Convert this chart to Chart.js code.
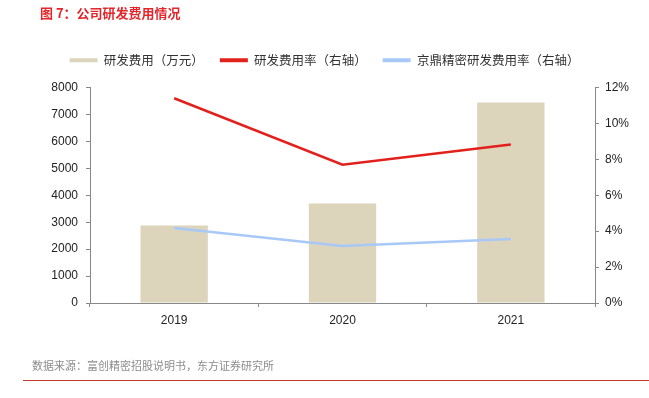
<!DOCTYPE html>
<html>
<head>
<meta charset="utf-8">
<script src="https://cdn.jsdelivr.net/npm/chart.js@4/dist/chart.umd.min.js"></script>
<style>
  body { margin: 0; background: #fff; font-family: "Liberation Sans", "Noto Sans CJK SC", sans-serif; }
  #wrap { position: relative; width: 649px; height: 398px; overflow: hidden; }
  #title { position: absolute; left: 40px; top: 3px; font-size: 13px; font-weight: bold; color: #e3262b; font-family: "Noto Sans CJK SC", sans-serif; }
  #source { position: absolute; left: 32px; top: 357px; font-size: 11px; color: #8c8c8c; font-family: "Noto Sans CJK SC", sans-serif; }
  #rule { position: absolute; left: 23px; right: 0; top: 380px; height: 1px; background: #c0392b; }
  canvas { position: absolute; left: 0; top: 0; }
</style>
</head>
<body>
<div id="wrap">
  <canvas id="chart" width="649" height="398"></canvas>
  <div id="title">图 7：公司研发费用情况</div>
  <div id="source">数据来源：富创精密招股说明书，东方证券研究所</div>
  <div id="rule"></div>
</div>
<script>
const years = ["2019", "2020", "2021"];
const rdCost = [2880, 3690, 7440];          // 研发费用（万元）
const rdRate = [11.4, 7.7, 8.83];           // 研发费用率 %
const peerRate = [4.17, 3.18, 3.56];        // 京鼎精密研发费用率 %
const leftTicks = [0, 1000, 2000, 3000, 4000, 5000, 6000, 7000, 8000];
const rightTicks = [0, 2, 4, 6, 8, 10, 12];

const font = { family: "'Liberation Sans', Arial, sans-serif", size: 12 };
const cjk = { family: "'Noto Sans CJK SC', sans-serif", size: 12.5 };

// push legend down a bit so the plot starts where it should
const legendSpace = {
  id: 'legendSpace',
  beforeInit(chart) {
    const fit = chart.legend.fit;
    chart.legend.fit = function () {
      fit.bind(chart.legend)();
      this.height += 11;
    };
  }
};

new Chart(document.getElementById('chart'), {
  type: 'bar',
  data: {
    labels: years,
    datasets: [
      {
        type: 'line',
        label: '研发费用率（右轴）',
        data: rdRate,
        yAxisID: 'y1',
        borderColor: '#e3211c',
        backgroundColor: '#e3211c',
        borderWidth: 2.5,
        pointRadius: 0,
        order: 1
      },
      {
        type: 'line',
        label: '京鼎精密研发费用率（右轴）',
        data: peerRate,
        yAxisID: 'y1',
        borderColor: '#a8c9f7',
        backgroundColor: '#a8c9f7',
        borderWidth: 2.5,
        pointRadius: 0,
        order: 2
      },
      {
        label: '研发费用（万元）',
        data: rdCost,
        yAxisID: 'y',
        backgroundColor: '#ddd4bc',
        categoryPercentage: 1,
        barPercentage: 0.4,
        order: 3
      }
    ]
  },
  options: {
    responsive: false,
    animation: false,
    layout: { padding: { top: 38, left: 0, right: 0, bottom: 70 } },
    plugins: {
      legend: {
        position: 'top',
        labels: {
          font: cjk,
          color: '#333',
          boxWidth: 28,
          boxHeight: 4,
          padding: 16,
          generateLabels(chart) {
            const order = [2, 0, 1];
            return order.map(i => {
              const ds = chart.data.datasets[i];
              return {
                text: ds.label,
                fillStyle: ds.backgroundColor,
                strokeStyle: ds.backgroundColor,
                lineWidth: 0,
                fontColor: '#333',
                datasetIndex: i
              };
            });
          }
        }
      },
      tooltip: { enabled: false }
    },
    scales: {
      x: {
        offset: true,
        grid: { offset: true, drawOnChartArea: false, tickLength: 4, color: '#888' },
        border: { color: '#888' },
        ticks: { font: font, color: '#222', padding: 6 },
        afterFit(s) { s.height = 25; }
      },
      y: {
        position: 'left',
        min: 0,
        max: 8000,
        afterBuildTicks(s) { s.ticks = leftTicks.map(v => ({ value: v })); },
        grid: { drawOnChartArea: false, tickLength: 4, color: '#888' },
        border: { color: '#888' },
        ticks: { font: font, color: '#222', padding: 8, callback: v => String(v) },
        afterFit(s) { s.width = 90; }
      },
      y1: {
        position: 'right',
        min: 0,
        max: 12,
        afterBuildTicks(s) { s.ticks = rightTicks.map(v => ({ value: v })); },
        grid: { drawOnChartArea: false, tickLength: 4, color: '#888' },
        border: { color: '#888' },
        ticks: { font: font, color: '#222', padding: 6, callback: v => v + '%' },
        afterFit(s) { s.width = 54; }
      }
    }
  },
  plugins: [legendSpace]
});
</script>
</body>
</html>
